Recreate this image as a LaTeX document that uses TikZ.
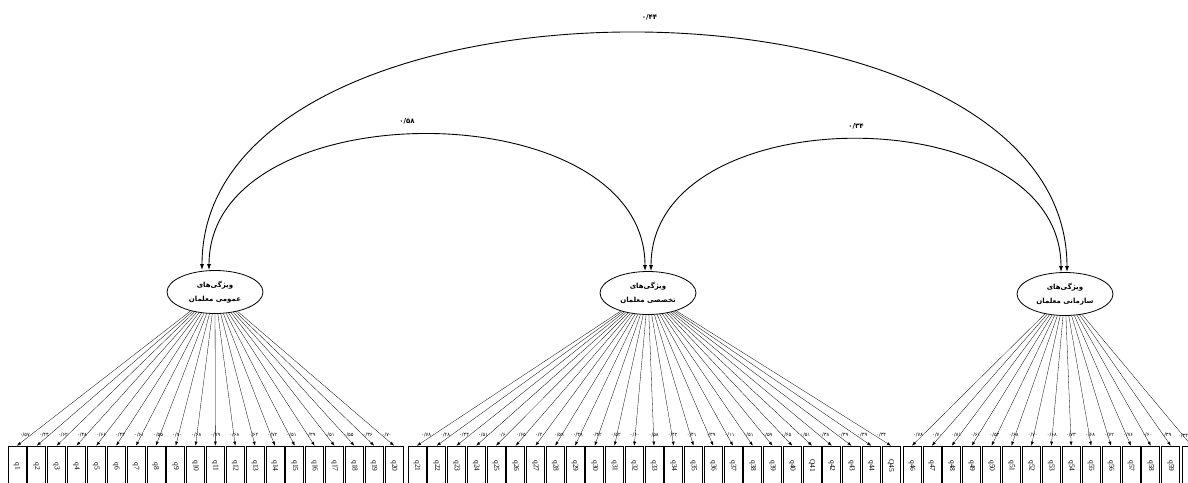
\documentclass[tikz,border=0pt]{standalone}
\usepackage{fontspec}
\setmainfont{Liberation Serif}
\newfontfamily\fafont[Script=Arabic]{DejaVu Sans}
\TeXXeTstate=1
\usetikzlibrary{shapes.geometric,arrows.meta,calc}

\tikzset{
  factor/.style={draw, ellipse, line width=0.8pt, minimum width=96pt,
    minimum height=43pt, inner sep=0pt, align=center,
    font=\fafont\bfseries\fontsize{7}{13.5}\selectfont},
  item/.style={draw, rectangle, line width=0.7pt, minimum width=18pt,
    minimum height=40pt, inner sep=0pt, font=\fontsize{7.5}{7.5}\selectfont},
  load/.style={line width=0.3pt, -{Latex[length=4pt,width=3pt]}},
  cov/.style={line width=0.9pt,
    {Latex[length=6pt,width=4pt]}-{Latex[length=6pt,width=4pt]}},
  wt/.style={font=\fafont\fontsize{5}{5}\selectfont, inner sep=0pt},
  corr/.style={font=\fafont\bfseries\fontsize{7}{7}\selectfont, inner sep=0pt}
}

\begin{document}
\begin{tikzpicture}[x=1pt,y=-1pt]

      \useasboundingbox (0,0) rectangle (1188,482);
      \clip (0,0) rectangle (1188,482);

      % The three latent factors.
      \node[factor] (f1) at (215,292) {\beginR ویژگی‌های\endR\\\beginR عمومی معلمان\endR};
      \node[factor] (f2) at (648,293) {\beginR ویژگی‌های\endR\\\beginR تخصصی معلمان\endR};
      \node[factor] (f3) at (1065,294) {\beginR ویژگی‌های\endR\\\beginR سازمانی معلمان\endR};

      % Where the covariance arcs meet the factors.
      \coordinate (f1a) at ($(f1.north)+(-13,0)$);
      \coordinate (f1b) at ($(f1.north)+(-6,0)$);
      \coordinate (f2a) at ($(f2.north)+(-3,0)$);
      \coordinate (f2b) at ($(f2.north)+(3,0)$);
      \coordinate (f3a) at ($(f3.north)+(-4,0)$);
      \coordinate (f3b) at ($(f3.north)+(2,0)$);

      % The covariances.
      \draw[cov] (f1a) .. controls +(0,-317) and +(0,-317) .. (f3b)
        node[corr, pos=0.5, above=13pt, xshift=15pt] {۰/۴۴};
      \draw[cov] (f1b) .. controls +(0,-181) and +(0,-181) .. (f2a)
        node[corr, pos=0.5, above=10pt, xshift=-20pt] {۰/۵۸};
      \draw[cov] (f2b) .. controls +(0,-176) and +(0,-176) .. (f3a)
        node[corr, pos=0.5, above=10pt] {۰/۳۴};

      % The first factor, items q1 to q20.
      \foreach \w [count=\i] in {۵۷,۴۴,۶۲,۴۸,۶۶,۴۳,۶۱,۵۵,۷۰,۶۸,
                                 ۷۹,۶۸,۶۲,۷۲,۵۱,۳۹,۵۱,۵۵,۳۶,۷۰} {
        \node[item] (q\i) at ({17+(\i-1)*19.84},466) {\rotatebox{-90}{q\i}};
        \draw[load] (f1) -- (q\i.north);
        \node[wt] at ($(q\i.north)!0.04!(f1)+(0,-5)$) {۰/\w};
      }

      % The second factor, items q21 to Q45.
      \foreach \n/\w [count=\i from 21] in {q21/۷۸,q22/۲۸,q23/۴۴,q24/۵۱,q25/۶,
          q26/۶۵,q27/۲۰,q28/۵۹,q29/۳۸,q30/۴۲,q31/۵۲,q32/۶۰,q33/۵۸,q34/۴۲,
          q35/۴۱,q36/۳۹,q37/۱۱,q38/۵۱,q39/۵۹,q40/۶۵,Q41/۵۱,q42/۳۸,q43/۳۹,
          q44/۳۹,Q45/۳۴} {
        \node[item] (q\i) at ({417+(\i-21)*19.75},466) {\rotatebox{-90}{\n}};
        \draw[load] (f2) -- (q\i.north);
        \node[wt] at ($(q\i.north)!0.04!(f2)+(0,-5)$) {۰/\w};
      }

      % The third factor, items q46 to q59.
      \foreach \w [count=\i from 46] in {۷۸,۷۰,۸۱,۶۱,۵۳,۶۸,۷۰,۶۸,
                                         ۷۳,۶۸,۷۲,۷۶,۶۰,۳۹} {
        \node[item] (q\i) at ({912+(\i-46)*19.9},466) {\rotatebox{-90}{q\i}};
        \draw[load] (f3) -- (q\i.north);
        \node[wt] at ($(q\i.north)!0.04!(f3)+(0,-5)$) {۰/\w};
      }
      % The last item, cut at the edge.
      \node[item] (q60) at (1191.5,466) {};
      \draw[load] (f3) -- (q60.north);
      \node[wt, anchor=west] at (1178,436) {۰/۳۳};

\end{tikzpicture}
\end{document}
